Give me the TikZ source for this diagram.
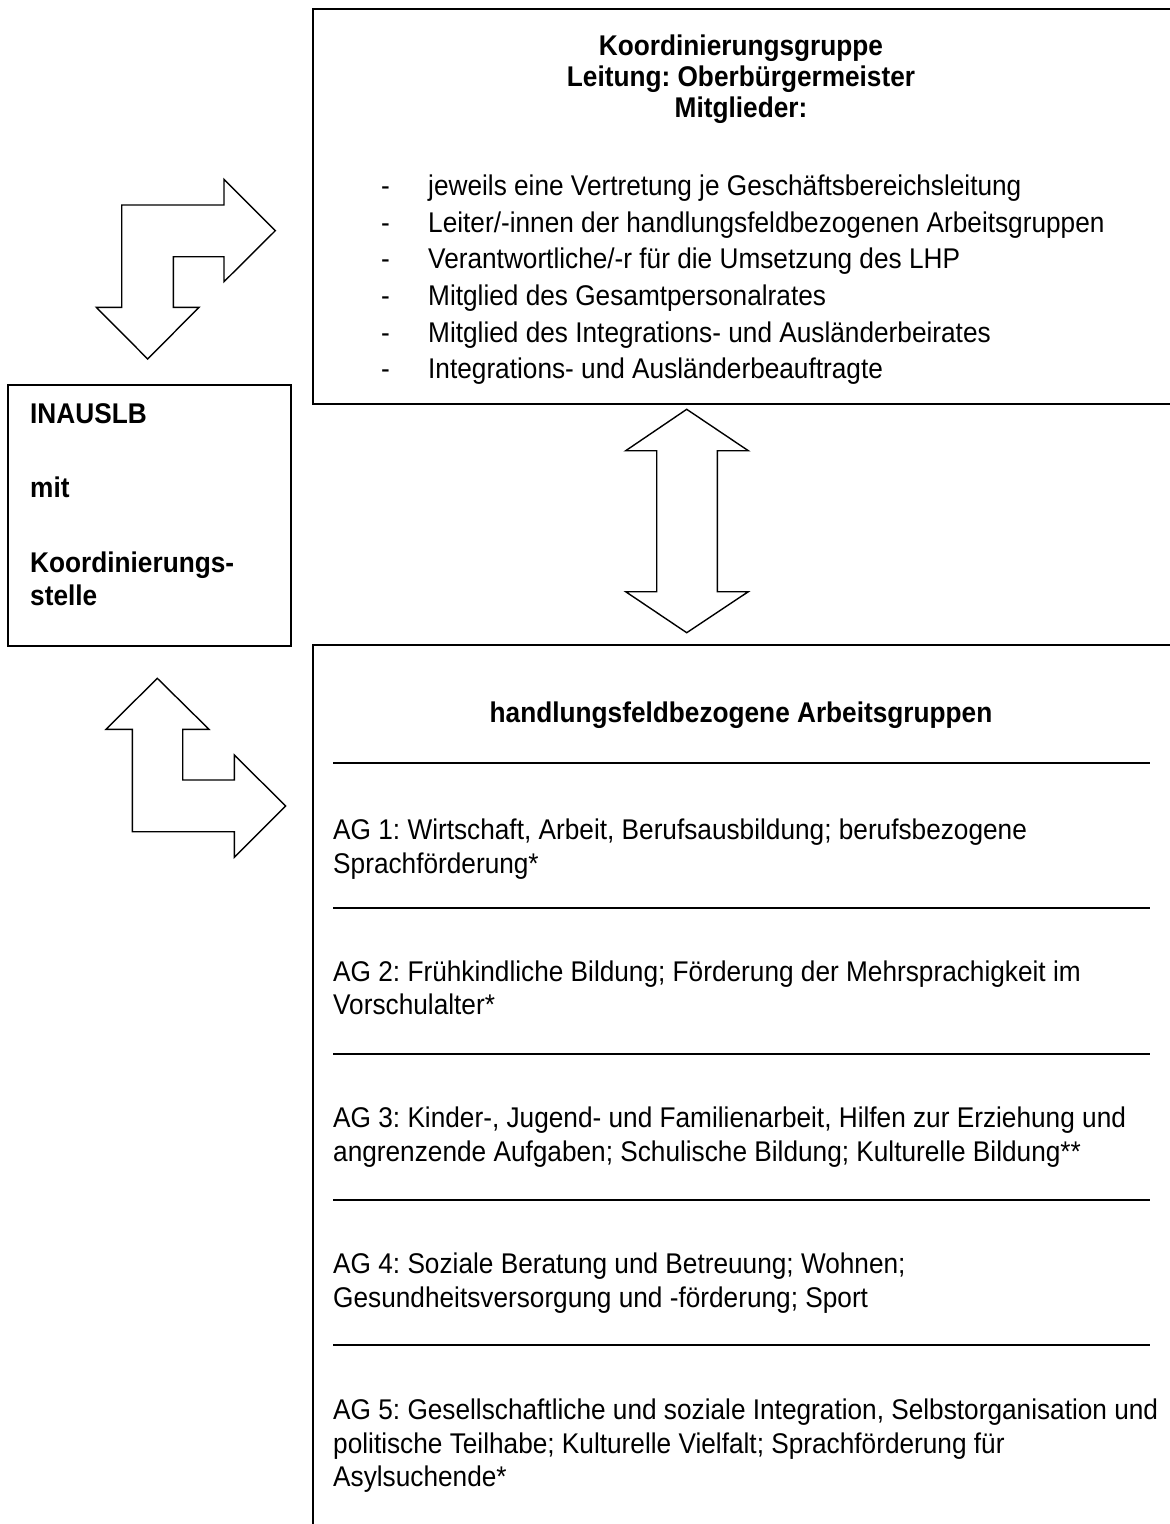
\documentclass[tikz,border=0pt]{standalone}
\usepackage{fontspec}
\setmainfont{Liberation Sans}[FakeStretch=0.92]
\begin{document}
\frenchspacing
\begin{tikzpicture}[x=1pt,y=-1pt,
  txt/.style={inner sep=0pt, anchor=base west, font=\fontsize{28.5}{33}\selectfont},
  btxt/.style={txt, font=\fontsize{28.5}{33}\selectfont\bfseries},
  box/.style={draw, line width=1.7pt},
  rule/.style={line width=1.7pt},
  blockarrow/.style={draw, line width=1.4pt, fill=white, line join=miter}]
\useasboundingbox (0,0) rectangle (1170,1524);
\clip (0,0) rectangle (1170,1524);
\fill[white] (0,0) rectangle (1170,1524);

% boxes
\draw[box] (313,9) rectangle (1190,404);
\draw[box] (8,385) rectangle (291,646);
\draw[box] (313,645) rectangle (1190,1560);

% top box text
\node[btxt, anchor=base] (kg1) at (741,55) {Koordinierungsgruppe};
\node[btxt, anchor=base] (kg2) at (741,86) {Leitung: Oberbürgermeister};
\node[btxt, anchor=base] (kg3) at (741,117) {Mitglieder:};
\foreach \y [count=\i] in {195,232,268,305,342,378}{
  \node[txt] (d\i) at (381,\y) {-};
}
\node[txt] (m1) at (428,195) {jeweils eine Vertretung je Geschäftsbereichsleitung};
\node[txt] (m2) at (428,232) {Leiter/-innen der handlungsfeldbezogenen Arbeitsgruppen};
\node[txt] (m3) at (428,268) {Verantwortliche/-r für die Umsetzung des LHP};
\node[txt] (m4) at (428,305) {Mitglied des Gesamtpersonalrates};
\node[txt] (m5) at (428,342) {Mitglied des Integrations- und Ausländerbeirates};
\node[txt] (m6) at (428,378) {Integrations- und Ausländerbeauftragte};

% left box text
\node[btxt] (in1) at (30,423) {INAUSLB};
\node[btxt] (in2) at (30,497) {mit};
\node[btxt] (in3) at (30,572) {Koordinierungs-};
\node[btxt] (in4) at (30,605) {stelle};

% bottom box
\node[btxt, anchor=base] (ag0) at (741,722) {handlungsfeldbezogene Arbeitsgruppen};
\foreach \y [count=\i] in {763,908,1054,1200,1345}{
  \coordinate (ra\i) at (333,\y);
  \coordinate (rb\i) at (1150,\y);
  \draw[rule] (ra\i) -- (rb\i);
}
\node[txt] (ag1a) at (333,839) {AG 1: Wirtschaft, Arbeit, Berufsausbildung; berufsbezogene};
\node[txt] (ag1b) at (333,873) {Sprachförderung*};
\node[txt] (ag2a) at (333,981) {AG 2: Frühkindliche Bildung; Förderung der Mehrsprachigkeit im};
\node[txt] (ag2b) at (333,1014) {Vorschulalter*};
\node[txt] (ag3a) at (333,1127) {AG 3: Kinder-, Jugend- und Familienarbeit, Hilfen zur Erziehung und};
\node[txt] (ag3b) at (333,1161) {angrenzende Aufgaben; Schulische Bildung; Kulturelle Bildung**};
\node[txt] (ag4a) at (333,1273) {AG 4: Soziale Beratung und Betreuung; Wohnen;};
\node[txt] (ag4b) at (333,1307) {Gesundheitsversorgung und -förderung; Sport};
\node[txt] (ag5a) at (333,1419) {AG 5: Gesellschaftliche und soziale Integration, Selbstorganisation und};
\node[txt] (ag5b) at (333,1453) {politische Teilhabe; Kulturelle Vielfalt; Sprachförderung für};
\node[txt] (ag5c) at (333,1486) {Asylsuchende*};

% block arrows
\draw[blockarrow] (121.7,205) -- (224,205) -- (224,179.3) -- (275.3,230.7) -- (224,281.7)
  -- (224,256.7) -- (173.3,256.7) -- (173.3,307.3) -- (199,307.3) -- (147.7,359)
  -- (96.3,307.3) -- (121.7,307.3) -- cycle;
\draw[blockarrow] (157.3,678.3) -- (209,729.3) -- (182.7,729.3) -- (182.7,780) -- (234.3,780)
  -- (234.3,755) -- (285.7,806) -- (234.3,857.3) -- (234.3,831.7) -- (132.3,831.7)
  -- (132.3,729.3) -- (106,729.3) -- cycle;
\draw[blockarrow] (686.7,409.3) -- (748.3,450.7) -- (717.3,450.7) -- (717.3,591.7) -- (748.3,591.7)
  -- (686.7,632.7) -- (625.7,591.7) -- (656.7,591.7) -- (656.7,450.7) -- (625.7,450.7) -- cycle;
\end{tikzpicture}
\end{document}
